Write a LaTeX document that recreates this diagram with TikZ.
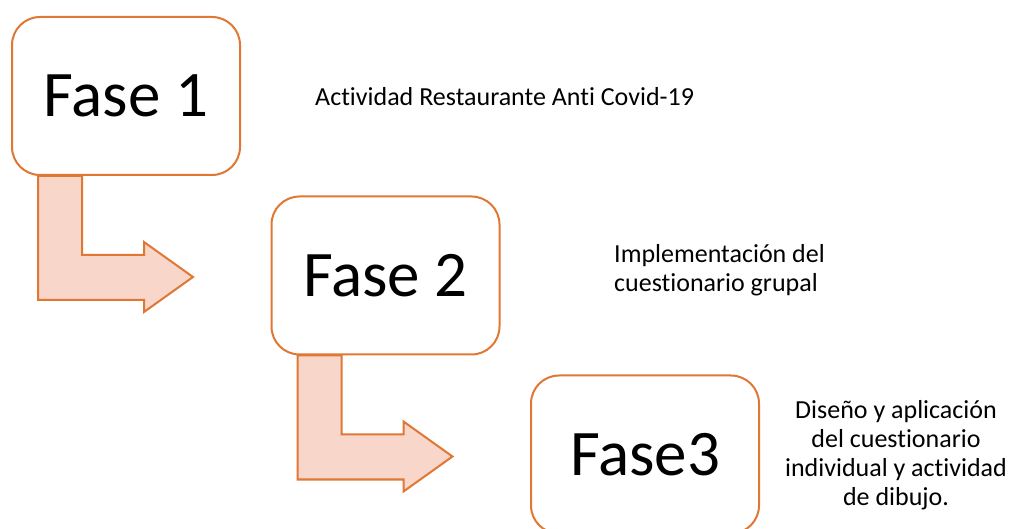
\documentclass[tikz,border=0pt]{standalone}
\usepackage{fontspec}
\setmainfont[Ligatures={NoCommon}]{Carlito}
\usepackage{xcolor}
\usepackage{tikz}
\usetikzlibrary{positioning, calc, backgrounds}
\definecolor{faseorange}{RGB}{224,120,52}
\definecolor{fasepink}{RGB}{248,214,202}

% bent arrow hanging below a phase box
\newcommand{\bentarrow}[1]{%
  \draw[bent] ($(#1.south west)+(27,0)$) -- ++(44,0) -- ++(0,79) -- ++(62,0) -- ++(0,-13)
    -- ++(49,35) -- ++(-49,35) -- ++(0,-12) -- ++(-106,0) -- cycle;}

\begin{document}
\begin{tikzpicture}[
    x=1pt, y=-1pt,
    fase/.style={rectangle, draw=faseorange, line width=2pt, fill=white, rounded corners=28pt, minimum width=228pt, minimum height=158pt, inner sep=0pt, font=\fontsize{65}{78}\selectfont},
    desc/.style={inner sep=0pt, font=\fontsize{26}{29}\selectfont},
    bent/.style={draw=faseorange, line width=2pt, fill=fasepink, line join=miter}
]
\useasboundingbox (0,0) rectangle (1013,529);
\clip (0,0) rectangle (1013,529);

% Phases
\node[fase] (f1) at (126,96) {Fase 1};
\node[fase] (f2) at (385.5,275.5) {Fase 2};
\node[fase] (f3) at (645,454.5) {Fase3};

% Descriptions
\node[desc, anchor=base west] (d1) at (315,106) {Actividad Restaurante Anti Covid-19};
\node[desc, align=left, anchor=west] (d2) at (614,270) {Implementación del\\cuestionario grupal};
\node[desc, align=center] (d3) at (896,455.5) {Diseño y aplicación\\del cuestionario\\individual y actividad\\de dibujo.};

% Arrows
\begin{pgfonlayer}{background}
\bentarrow{f1}
\bentarrow{f2}
\end{pgfonlayer}

\end{tikzpicture}
\end{document}
